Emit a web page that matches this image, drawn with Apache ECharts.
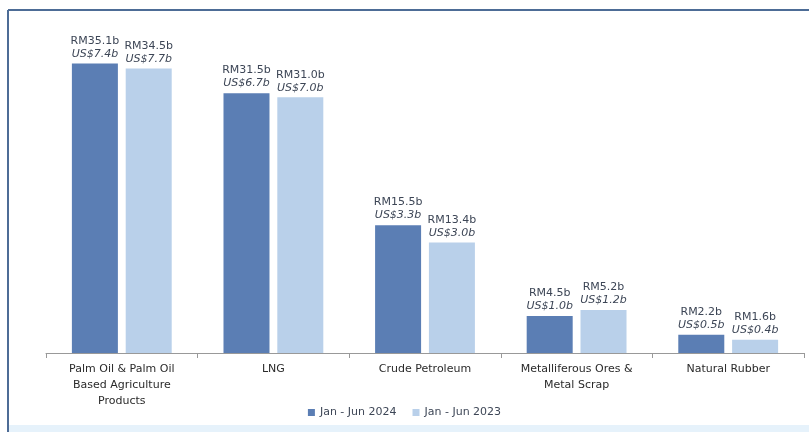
<!DOCTYPE html>
<html><head><meta charset="utf-8">
<script src="https://cdn.jsdelivr.net/npm/echarts@6/dist/echarts.min.js"></script>
<style>html,body{margin:0;padding:0;background:#fff}#c{width:809px;height:432px}</style>
</head><body><div id="c"></div>
<script>
const categories = ["Palm Oil & Palm Oil\nBased Agriculture\nProducts", "LNG", "Crude Petroleum", "Metalliferous Ores &\nMetal Scrap", "Natural Rubber"];
const seriesNames = ["Jan - Jun 2024", "Jan - Jun 2023"];
const rm2024 = [35.1, 31.5, 15.5, 4.5, 2.2];
const rm2023 = [34.5, 31.0, 13.4, 5.2, 1.6];
const us2024 = [7.4, 6.7, 3.3, 1.0, 0.5];
const us2023 = [7.7, 7.0, 3.0, 1.2, 0.4];

const chart = echarts.init(document.getElementById('c'));
const font = "'DejaVu Sans', sans-serif";
function lbl(us){
  return {
    show: true, position: 'top', distance: 3,
    formatter: p => '{a|RM' + p.value.toFixed(1) + 'b}\n{b|US$' + us[p.dataIndex].toFixed(1) + 'b}',
    rich: {
      a: {fontSize: 11, color: '#3d4656', fontFamily: font, lineHeight: 13},
      b: {fontSize: 11, color: '#3d4656', fontStyle: 'italic', fontFamily: font, lineHeight: 13}
    }
  };
}
chart.setOption({
  animation: false,
  grid: {left: 46, right: 5, top: 23, bottom: 79, containLabel: false},
  legend: {
    bottom: 9, left: 'center', itemWidth: 7, itemHeight: 7, itemGap: 16,
    icon: 'rect',
    textStyle: {fontSize: 11, color: '#3d4656', fontFamily: font}
  },
  xAxis: {
    type: 'category', data: categories,
    axisLine: {lineStyle: {color: '#999'}},
    axisTick: {show: true, lineStyle: {color: '#999'}},
    axisLabel: {fontSize: 11, color: '#2a2a2a', fontFamily: font, lineHeight: 16, interval: 0, margin: 8}
  },
  yAxis: {type: 'value', min: 0, max: 40, show: false, splitLine: {show: false}},
  series: [
    {name: seriesNames[0], type: 'bar', data: rm2024, barWidth: 46, barGap: '17%',
     itemStyle: {color: '#5b7eb4'}, label: lbl(us2024)},
    {name: seriesNames[1], type: 'bar', data: rm2023, barWidth: 46,
     itemStyle: {color: '#b9d0ea'}, label: lbl(us2023)}
  ],
  graphic: [
    {type: 'line', shape: {x1: 8, y1: 10, x2: 809, y2: 10}, style: {stroke: '#4d6c96', lineWidth: 2}},
    {type: 'line', shape: {x1: 8, y1: 10, x2: 8, y2: 432}, style: {stroke: '#4d6c96', lineWidth: 2}},
    {type: 'rect', shape: {x: 9, y: 425, width: 800, height: 7}, style: {fill: '#e6f2fb'}}
  ]
});
</script></body></html>
